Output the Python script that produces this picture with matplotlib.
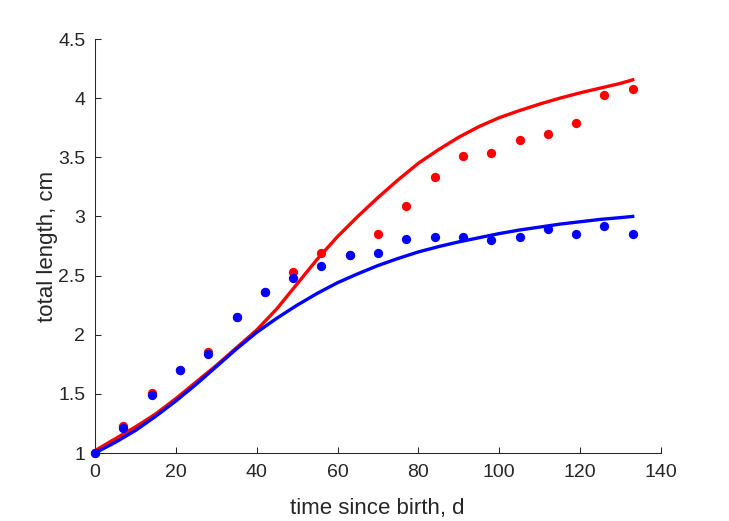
import matplotlib
matplotlib.use("Agg")
import matplotlib.pyplot as plt

plt.rcParams['font.family'] = ['Liberation Sans', 'DejaVu Sans']

# observed data
t_obs = [0, 7, 14, 21, 28, 35, 42, 49, 56, 63, 70, 77, 84, 91, 98, 105, 112, 119, 126, 133]
red_obs = [1.00, 1.23, 1.51, 1.70, 1.85, 2.15, 2.36, 2.53, 2.69, 2.67, 2.85, 3.09, 3.33, 3.51,
           3.54, 3.65, 3.70, 3.79, 4.03, 4.08]
blue_obs = [1.00, 1.21, 1.49, 1.70, 1.84, 2.15, 2.36, 2.48, 2.58, 2.67, 2.69, 2.81, 2.83, 2.83,
            2.80, 2.83, 2.89, 2.85, 2.92, 2.85]

# model curves
t_mod = [0, 5, 10, 15, 20, 25, 30, 35, 40, 45, 50, 55, 60, 65, 70, 75, 80, 85, 90, 95,
         100, 105, 110, 115, 120, 125, 130, 133]
red_mod = [1.02, 1.12, 1.22, 1.33, 1.46, 1.60, 1.74, 1.89, 2.04, 2.22, 2.43, 2.64, 2.83, 3.00,
           3.16, 3.31, 3.45, 3.565, 3.67, 3.76, 3.835, 3.895, 3.95, 4.00, 4.045, 4.085, 4.125, 4.155]
blue_mod = [1.00, 1.09, 1.19, 1.31, 1.44, 1.58, 1.73, 1.88, 2.02, 2.14, 2.25, 2.35, 2.44, 2.515,
            2.585, 2.645, 2.70, 2.745, 2.785, 2.82, 2.855, 2.885, 2.91, 2.935, 2.955, 2.975, 2.99, 3.00]

xticks = [0, 20, 40, 60, 80, 100, 120, 140]
yticks = [1, 1.5, 2, 2.5, 3, 3.5, 4, 4.5]
ytick_labels = ['1', '1.5', '2', '2.5', '3', '3.5', '4', '4.5']

W, H = 729, 521
fig = plt.figure(figsize=(W / 100, H / 100), dpi=100)
ax = fig.add_axes([95 / W, (H - 453) / H, (661 - 95) / W, (453 - 39) / H])

tc = '#262626'
ax.plot(t_obs, red_obs, 'o', color='#ff0000', markersize=6.7, markeredgewidth=0,
        clip_on=False, zorder=2)
ax.plot(t_mod, red_mod, '-', color='#ff0000', linewidth=2.4, solid_joinstyle='round', zorder=3)
ax.plot(t_obs, blue_obs, 'o', color='#0000ff', markersize=6.7, markeredgewidth=0,
        clip_on=False, zorder=4)
ax.plot(t_mod, blue_mod, '-', color='#0000ff', linewidth=2.4, solid_joinstyle='round', zorder=5)

ax.set_xlim(0, 140)
ax.set_ylim(1, 4.5)
ax.set_xticks(xticks)
ax.set_yticks(yticks)
ax.set_yticklabels(ytick_labels)

for s in ['top', 'right']:
    ax.spines[s].set_visible(False)
for s in ['left', 'bottom']:
    ax.spines[s].set_color(tc)
    ax.spines[s].set_linewidth(0.75)
    ax.spines[s].set_zorder(1)
ax.tick_params(direction='in', length=4.5, width=0.75, colors=tc, labelsize=14)
ax.tick_params(axis='x', pad=8)
ax.tick_params(axis='y', pad=7)

ax.set_xlabel('time since birth, d', fontsize=16, color=tc)
ax.set_ylabel('total length, cm', fontsize=16, color=tc)
ax.xaxis.set_label_coords(0.498, -0.1087)
ax.yaxis.set_label_coords(-0.066, 0.5)

fig.savefig('out.png', dpi=100)
